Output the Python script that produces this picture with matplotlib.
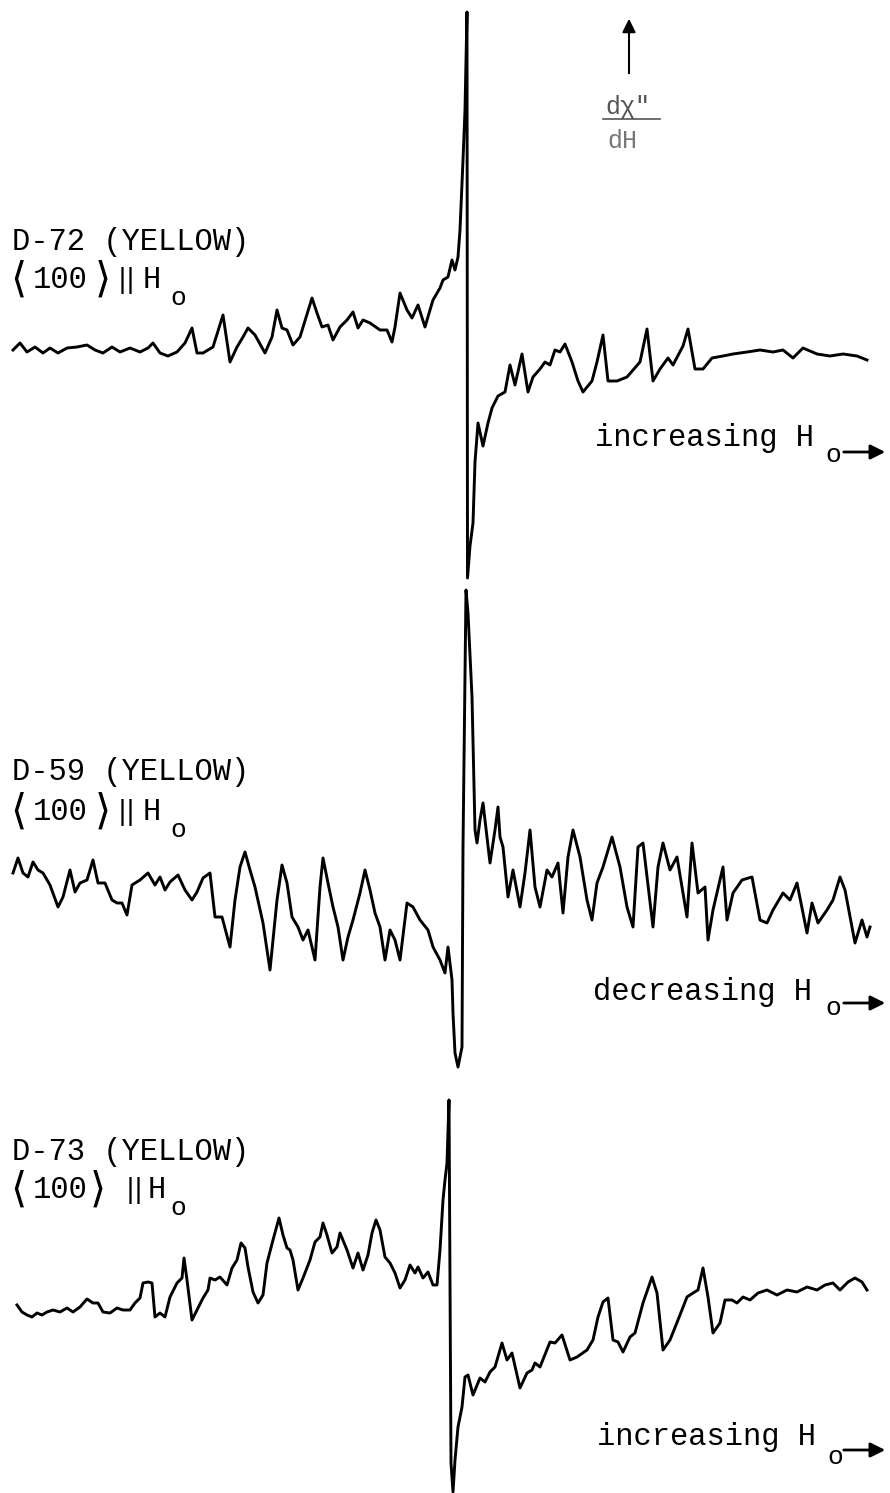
import matplotlib.pyplot as plt
import numpy as np

plt.rcParams['font.family'] = ['Liberation Mono', 'DejaVu Sans Mono', 'DejaVu Sans']
plt.rcParams['mathtext.fontset'] = 'dejavusans'

# D-72, increasing field: (field channel, derivative signal)
d72_field = [13, 20, 27, 35, 43, 50, 58, 67, 77, 87, 95, 103, 112, 120, 130, 140, 148, 153, 160, 168,
             177, 185, 192, 197, 203, 213, 223, 230, 237, 243, 248, 255, 265, 272, 277, 282, 287, 293,
             300, 312, 317, 322, 328, 333, 340, 347, 353, 358, 363, 370, 380, 387, 392, 395, 400, 407,
             412, 418, 425, 430, 433, 440, 443, 448, 452, 455, 458, 460, 463, 465, 467, 467.5,
             470, 473, 475, 478, 483, 488, 492, 498, 505, 510, 515, 522, 528, 533, 540, 545, 550, 555,
             560, 565, 572, 578, 583, 592, 597, 603, 608, 617, 627, 640, 647, 653, 660, 668, 673, 683,
             688, 695, 703, 712, 723, 733, 747, 760, 773, 783, 793, 803, 817, 830, 843, 857, 867]
d72_signal = [0, 7, -2, 3, -3, 2, -3, 2, 3, 5, 0, -3, 3, -2, 2, -2, 2, 7, -3, -6,
              -2, 7, 22, -3, -3, 3, 35, -12, 3, 13, 22, 15, -3, 13, 40, 22, 20, 5,
              13, 52, 37, 23, 25, 10, 23, 30, 38, 22, 30, 27, 20, 20, 8, 23, 57, 40,
              32, 45, 23, 40, 50, 62, 70, 73, 90, 80, 93, 120, 190, 240, 338, -228,
              -196, -173, -112, -73, -96, -73, -58, -46, -42, -15, -35, -4, -42, -27, -19, -12, -15, 0,
              -2, 6, -12, -31, -42, -31, -12, 15, -31, -31, -27, -12, 21, -31, -19, -8, -15, 4,
              21, -19, -19, -8, -6, -4, -2, 0, -2, 0, -8, 2, -4, -6, -4, -6, -10]

# D-59, decreasing field
d59_field = [13, 18, 23, 28, 33, 38, 43, 50, 58, 63, 70, 75, 80, 87, 93, 98, 105, 112, 117, 122,
             127, 132, 140, 148, 155, 160, 165, 170, 178, 185, 192, 197, 203, 210, 215, 222, 230, 235,
             240, 245, 250, 255, 263, 270, 277, 282, 287, 292, 298, 303, 308, 315, 320, 323, 328, 333,
             338, 343, 348, 353, 360, 365, 370, 375, 380, 385, 390, 395, 400, 407, 413, 420, 428, 433,
             440, 445, 448, 452, 453, 455, 458, 462, 463, 466, 468, 472, 475, 477, 480, 483, 490, 495,
             498, 500, 503, 508, 513, 520, 525, 530, 535, 540, 547, 552, 558, 563, 568, 573, 580, 587,
             592, 597, 603, 612, 620, 627, 633, 638, 643, 653, 658, 663, 670, 677, 687, 692, 698, 705,
             708, 713, 723, 727, 733, 742, 752, 760, 767, 773, 783, 790, 797, 807, 812, 818, 827, 833,
             840, 845, 855, 862, 867, 870]
d59_signal = [7, 22, 7, 3, 18, 10, 7, -5, -27, -17, 10, -12, -3, 0, 20, -3, -3, -20, -23, -23,
              -35, -5, 0, 7, -5, 3, -10, -2, 5, -10, -20, -12, 2, 7, -37, -37, -67, -20,
              13, 28, 10, -7, -43, -90, -20, 15, -3, -37, -47, -60, -50, -80, -7, 22, -3, -27,
              -47, -80, -57, -40, -13, 10, -10, -33, -47, -80, -50, -60, -80, -23, -27, -40, -50, -67,
              -80, -93, -67, -100, -133, -173, -187, -167, 33, 290, 267, 183, 50, 37, 60, 77, 17, 50,
              73, 43, 33, -17, 10, -27, 7, 50, -7, -27, 10, 3, 17, -33, 23, 50, 23, -20,
              -40, -3, 13, 43, 13, -27, -47, 33, 37, -47, 13, 37, 10, 23, -37, 37, -13, -7,
              -60, -30, 13, -40, -13, 0, 3, -40, -43, -30, -13, -20, -3, -53, -23, -43, -30, -20,
              3, -10, -63, -40, -57, -47]

# D-73, increasing field
d73_field = [17, 22, 27, 32, 37, 42, 47, 53, 60, 67, 73, 80, 87, 93, 98, 103, 110, 117, 123, 130,
             135, 140, 143, 148, 152, 155, 160, 165, 170, 177, 182, 184, 187, 192, 197, 203, 208, 210,
             215, 220, 227, 232, 237, 241, 245, 248, 253, 258, 263, 267, 273, 279, 283, 287, 290, 293,
             298, 303, 310, 315, 320, 323, 327, 332, 337, 340, 347, 353, 358, 363, 368, 372, 376, 380,
             385, 390, 395, 400, 405, 410, 415, 418, 423, 428, 433, 437, 440, 443, 445, 447, 449,
             451, 453, 455, 458, 462, 465, 468, 473, 480, 485, 490, 495, 502, 507, 512, 520, 527, 532,
             535, 540, 550, 555, 562, 570, 577, 587, 593, 598, 603, 608, 613, 618, 623, 630, 635, 643,
             652, 657, 663, 670, 678, 687, 693, 698, 703, 708, 713, 720, 725, 732, 737, 743, 750, 758,
             767, 777, 787, 797, 807, 817, 825, 833, 840, 848, 855, 862, 867]
d73_signal = [5, -2, -5, -7, -3, -5, -2, 0, -2, 2, -2, 3, 11, 7, 7, -2, -3, 2, 0, 0,
              7, 12, 27, 28, 27, -7, -3, -7, 13, 27, 32, 52, 30, -10, 0, 12, 20, 32,
              30, 33, 25, 42, 50, 67, 62, 43, 18, 7, 15, 47, 70, 92, 75, 62, 60, 50,
              20, 32, 50, 68, 73, 87, 75, 57, 63, 77, 60, 42, 57, 40, 55, 77, 90, 80,
              53, 47, 37, 22, 30, 45, 37, 43, 32, 38, 25, 25, 60, 110, 130, 147, 210,
              -153, -182, -150, -117, -97, -67, -65, -85, -68, -72, -62, -57, -33, -50, -43, -78, -63, -60,
              -53, -57, -32, -33, -25, -50, -47, -40, -30, -7, 8, 12, -30, -32, -42, -27, -23, 7,
              33, 17, -40, -30, -10, 13, 17, 20, 42, 13, -23, -13, 10, 10, 7, 13, 10, 17,
              20, 15, 20, 18, 23, 20, 25, 27, 20, 28, 32, 28, 20]

W, H = 890, 1493
fig = plt.figure(figsize=(W / 100, H / 100), dpi=100)
fig.patch.set_facecolor('white')

# one axes per spectrum: (top px, bottom px, baseline px)
bands = [(0, 600, 350), (580, 1080, 880), (1080, 1493, 1310)]
traces = [(d72_field, d72_signal), (d59_field, d59_signal), (d73_field, d73_signal)]
for (top, bot, base), (fx, sy) in zip(bands, traces):
    ax = fig.add_axes([0, 1 - bot / H, 1, (bot - top) / H])
    ax.plot(fx, sy, color='black', lw=2.1, solid_joinstyle='round')
    ax.set_xlim(0, W)
    ax.set_ylim(base - bot, base - top)
    ax.axis('off')
    ax.patch.set_alpha(0)

# overlay for labels, in pixel space
ov = fig.add_axes([0, 0, 1, 1])
ov.set_xlim(0, W)
ov.set_ylim(H, 0)
ov.axis('off')
ov.patch.set_alpha(0)

fs = 22
# name, name y, orientation y, x of right bracket, x of bars, x of H
samples = [('D-72 (YELLOW)', 242, 280, 94, 118, 143),
           ('D-59 (YELLOW)', 772, 812, 94, 118, 143),
           ('D-73 (YELLOW)', 1152, 1190, 89, 126, 148)]
for name, y1, y2, xr, xb, xh in samples:
    ov.text(12, y1, name, fontsize=fs, va='center', ha='left')
    ov.text(10, y2, r'$\langle$', fontsize=30, va='center', ha='left')
    ov.text(33, y2, '100', fontsize=fs, va='center', ha='left')
    ov.text(xr, y2, r'$\rangle$', fontsize=30, va='center', ha='left')
    ov.text(xb, y2 + 1, '||', fontsize=19, va='center', ha='left', family='DejaVu Sans')
    ov.text(xh, y2, 'H', fontsize=fs, va='center', ha='left')
    ov.text(170, y2 + 18, 'o', fontsize=19, va='center', ha='left')

sweeps = [('increasing H', 595, 438, 833, 455, 452),
          ('decreasing H', 593, 992, 833, 1008, 1003),
          ('increasing H', 597, 1437, 835, 1457, 1450)]
for txt, x, y, xo, yo, ya in sweeps:
    ov.text(x, y, txt, fontsize=fs, va='center', ha='left')
    ov.text(xo, yo, 'o', fontsize=19, va='center', ha='center')
    ov.annotate('', xy=(888, ya), xytext=(841, ya),
                arrowprops=dict(arrowstyle='-|>', lw=2, color='black', mutation_scale=22))

# derivative axis label
ov.annotate('', xy=(629, 16), xytext=(629, 76),
            arrowprops=dict(arrowstyle='-|>', lw=1.5, color='black', mutation_scale=20))
ov.text(628, 107, 'd\u03c7"', fontsize=18, va='center', ha='center', color='#555555')
ov.plot([603, 660], [119, 119], color='#555555', lw=1.2)
ov.text(622, 141, 'dH', fontsize=18, va='center', ha='center', color='#777777')

fig.savefig('out.png', dpi=100)
